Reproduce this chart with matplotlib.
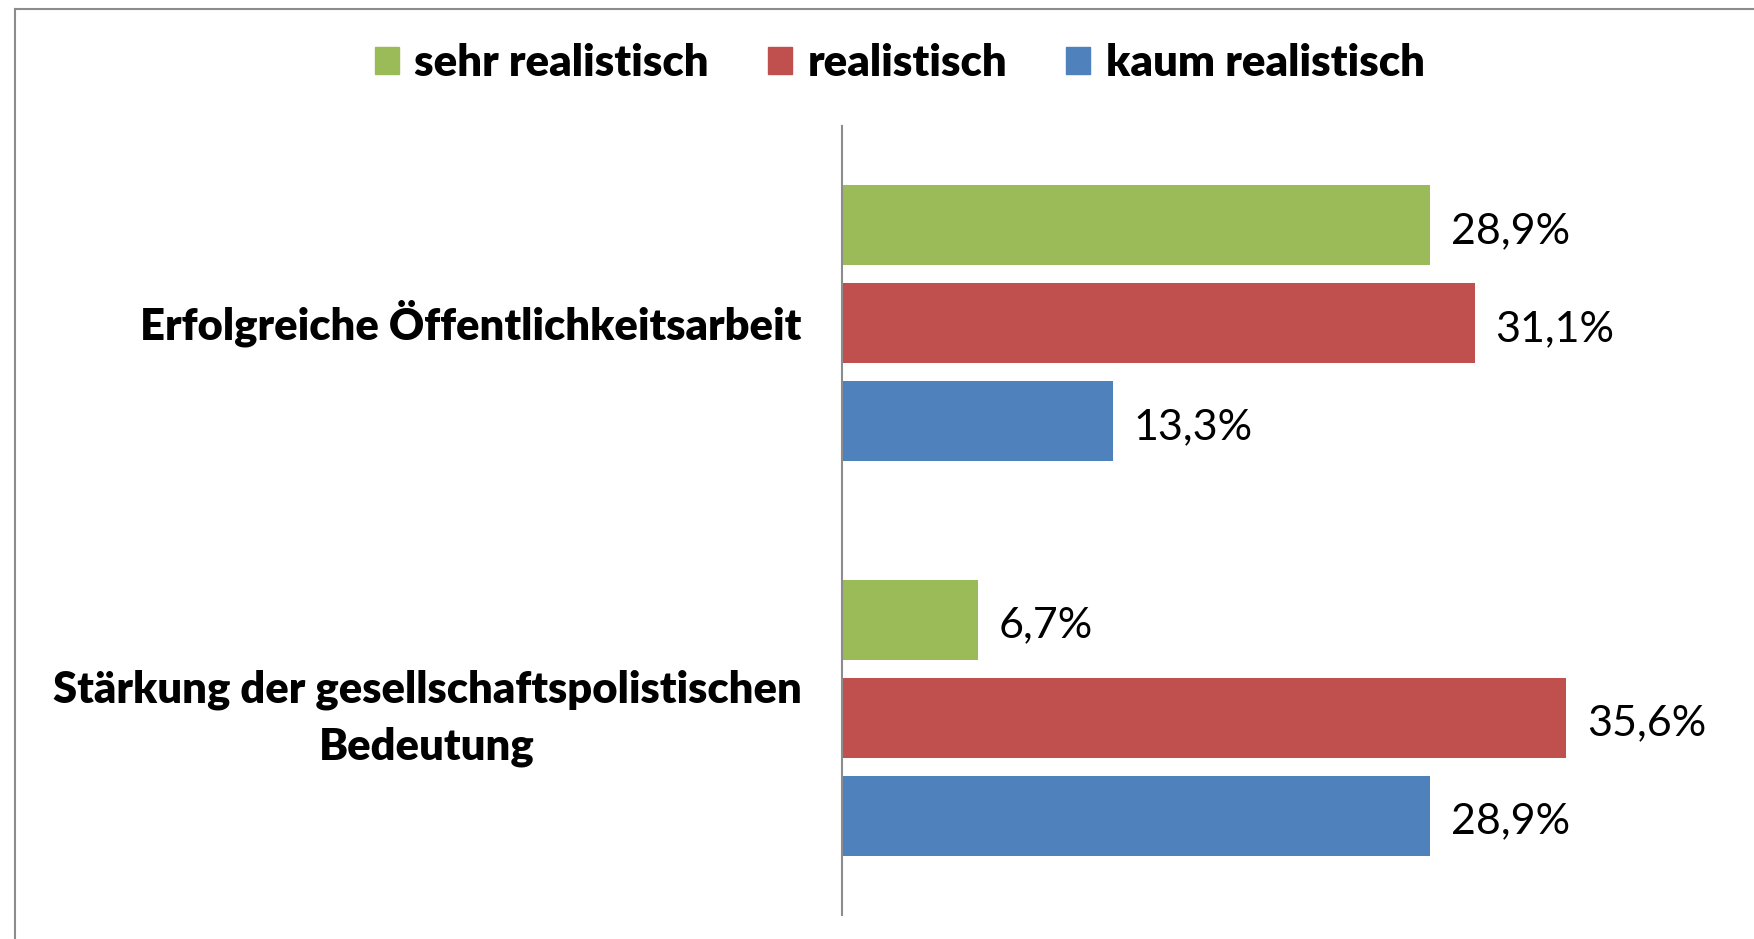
import matplotlib
matplotlib.use('Agg')
import matplotlib.pyplot as plt
from matplotlib.patches import Patch
from matplotlib.lines import Line2D
import numpy as np

plt.rcParams['font.family'] = ['Lato', 'DejaVu Sans']

categories = ['Erfolgreiche Öffentlichkeitsarbeit',
              'Stärkung der gesellschaftspolistischen\nBedeutung']
series = ['sehr realistisch', 'realistisch', 'kaum realistisch']
sehr = [28.9, 6.7]
real = [31.1, 35.6]
kaum = [13.3, 28.9]
colors = ['#9BBB59', '#C0504D', '#4F81BD']

fig = plt.figure(figsize=(17.54, 9.39), dpi=100)
ax = fig.add_axes([0.480, 0.0256, 0.464, 0.840])

y = np.arange(len(categories))
step = 0.2485
h = 0.203
for i, (vals, col) in enumerate(zip([sehr, real, kaum], colors)):
    pos = y + (i - 1) * step
    ax.barh(pos, vals, height=h, color=col, label=series[i])
    for p, v in zip(pos, vals):
        ax.annotate(f'{v:.1f}%'.replace('.', ','), (v, p), xytext=(15, -4),
                    textcoords='offset points', va='center', ha='left',
                    fontsize=31)

ax.set_xlim(0, 40)
ax.set_ylim(1.5, -0.5)
ax.set_xticks([])
ax.set_yticks(y)
ax.set_yticklabels(categories, fontsize=31.3, fontweight='heavy')
for lab in ax.get_yticklabels():
    lab.set_multialignment('center')
    lab.set_linespacing(1.5)
    lab.set_verticalalignment('center')
ax.tick_params(axis='y', length=0, pad=29)
for s in ['top', 'right', 'bottom']:
    ax.spines[s].set_visible(False)
ax.spines['left'].set_color('#8c8c8c')
ax.spines['left'].set_linewidth(1.5)

handles = [Patch(color=c, label=s) for c, s in zip(colors, series)]
fig.legend(handles=handles, loc='center', bbox_to_anchor=(0.513, 0.933),
           ncol=3, frameon=False, handlelength=0.55, handleheight=0.55,
           handletextpad=0.35, columnspacing=1.35,
           prop={'size': 31.5, 'weight': 'heavy'})

# outer frame (top and left edges visible)
fig.add_artist(Line2D([15 / 1754, 1.0], [1 - 8.5 / 939] * 2, color='#8c8c8c', lw=1.5))
fig.add_artist(Line2D([15 / 1754] * 2, [0.0, 1 - 8.5 / 939], color='#8c8c8c', lw=1.5))

fig.savefig('out.png', dpi=100)
